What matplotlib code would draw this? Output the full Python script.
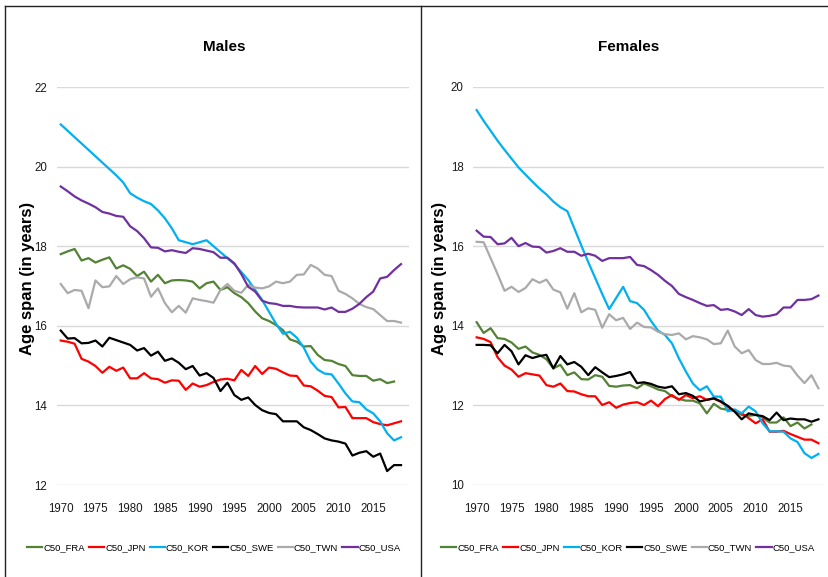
"""
plot.py
Cohort age span (C50) by sex for six countries, 1970-2019.
Run: python plot.py
"""
import numpy as np
import matplotlib
matplotlib.use('Agg')
import matplotlib.pyplot as plt
from matplotlib.lines import Line2D

nan = np.nan
YEARS = np.arange(1970, 2020)
XTICKS = list(range(1970, 2020, 5))

SERIES = ['C50_FRA', 'C50_JPN', 'C50_KOR', 'C50_SWE', 'C50_TWN', 'C50_USA']
COLORS = ['#548235', '#ff0000', '#00b0f0', '#000000', '#aaaaaa', '#7030a0']

male_fra = [17.80, 17.87, 17.93, 17.64, 17.70, 17.59, 17.66, 17.72, 17.44, 17.52,
            17.43, 17.25, 17.36, 17.11, 17.28, 17.07, 17.14, 17.15, 17.14, 17.11,
            16.94, 17.07, 17.11, 16.90, 16.97, 16.82, 16.72, 16.57, 16.36, 16.19,
            16.12, 16.02, 15.89, 15.66, 15.60, 15.48, 15.49, 15.27, 15.14, 15.12,
            15.04, 14.99, 14.76, 14.74, 14.74, 14.62, 14.66, 14.56, 14.60, nan]
male_jpn = [15.63, 15.60, 15.55, 15.17, 15.10, 14.99, 14.82, 14.97, 14.87, 14.95,
            14.68, 14.68, 14.81, 14.68, 14.66, 14.57, 14.63, 14.62, 14.39, 14.55,
            14.47, 14.51, 14.59, 14.65, 14.67, 14.63, 14.89, 14.74, 14.99, 14.79,
            14.95, 14.92, 14.83, 14.75, 14.74, 14.50, 14.48, 14.37, 14.24, 14.21,
            13.95, 13.96, 13.68, 13.68, 13.68, 13.58, 13.53, 13.50, 13.55, 13.60]
male_kor = [21.06, 20.90, 20.74, 20.58, 20.42, 20.26, 20.10, 19.94, 19.78, 19.60,
            19.33, 19.22, 19.13, 19.06, 18.90, 18.70, 18.45, 18.15, 18.10, 18.05,
            18.10, 18.15, 18.00, 17.85, 17.70, 17.55, 17.35, 17.15, 16.90, 16.65,
            16.35, 16.05, 15.80, 15.85, 15.70, 15.45, 15.10, 14.90, 14.80, 14.78,
            14.55, 14.30, 14.10, 14.08, 13.90, 13.80, 13.60, 13.30, 13.12, 13.20]
male_swe = [15.88, 15.68, 15.69, 15.56, 15.57, 15.63, 15.48, 15.70, 15.64, 15.58,
            15.52, 15.38, 15.44, 15.25, 15.35, 15.12, 15.18, 15.07, 14.91, 14.99,
            14.75, 14.81, 14.69, 14.36, 14.57, 14.26, 14.14, 14.20, 14.01, 13.88,
            13.81, 13.78, 13.60, 13.60, 13.60, 13.45, 13.38, 13.28, 13.17, 13.12,
            13.09, 13.04, 12.74, 12.81, 12.85, 12.71, 12.79, 12.35, 12.50, 12.50]
male_twn = [17.05, 16.82, 16.90, 16.88, 16.44, 17.14, 16.97, 16.99, 17.25, 17.05,
            17.17, 17.22, 17.19, 16.73, 16.94, 16.57, 16.34, 16.50, 16.33, 16.69,
            16.65, 16.62, 16.58, 16.90, 17.05, 16.88, 16.83, 17.03, 16.96, 16.94,
            16.99, 17.11, 17.07, 17.11, 17.28, 17.29, 17.53, 17.44, 17.28, 17.25,
            16.88, 16.80, 16.69, 16.55, 16.47, 16.42, 16.27, 16.12, 16.12, 16.08]
male_usa = [19.50, 19.38, 19.25, 19.15, 19.07, 18.98, 18.86, 18.82, 18.76, 18.74,
            18.50, 18.38, 18.20, 17.97, 17.96, 17.87, 17.90, 17.86, 17.83, 17.95,
            17.93, 17.89, 17.85, 17.71, 17.71, 17.57, 17.30, 16.98, 16.86, 16.63,
            16.57, 16.55, 16.50, 16.50, 16.47, 16.46, 16.46, 16.46, 16.41, 16.46,
            16.35, 16.35, 16.43, 16.55, 16.72, 16.86, 17.19, 17.23, 17.40, 17.55]

fem_fra = [14.09, 13.82, 13.94, 13.69, 13.67, 13.58, 13.42, 13.48, 13.33, 13.27,
           13.16, 12.93, 13.02, 12.76, 12.83, 12.66, 12.65, 12.76, 12.72, 12.49,
           12.47, 12.50, 12.51, 12.43, 12.55, 12.48, 12.40, 12.36, 12.23, 12.16,
           12.12, 12.12, 12.05, 11.80, 12.04, 11.92, 11.89, 11.87, 11.76, 11.74,
           11.76, 11.70, 11.57, 11.57, 11.70, 11.48, 11.57, 11.42, 11.52, nan]
fem_jpn = [13.71, 13.67, 13.59, 13.21, 13.00, 12.90, 12.72, 12.81, 12.78, 12.75,
           12.51, 12.47, 12.55, 12.36, 12.35, 12.28, 12.23, 12.23, 12.01, 12.08,
           11.94, 12.02, 12.06, 12.08, 12.01, 12.12, 11.98, 12.16, 12.26, 12.14,
           12.26, 12.18, 12.23, 12.14, 12.17, 12.09, 11.97, 11.85, 11.80, 11.68,
           11.55, 11.65, 11.34, 11.34, 11.36, 11.28, 11.21, 11.14, 11.14, 11.05]
fem_kor = [19.42, 19.15, 18.90, 18.65, 18.42, 18.20, 17.98, 17.80, 17.62, 17.45,
           17.30, 17.12, 16.98, 16.88, 16.45, 16.02, 15.60, 15.20, 14.80, 14.42,
           14.70, 14.98, 14.62, 14.57, 14.40, 14.12, 13.88, 13.77, 13.56, 13.18,
           12.85, 12.55, 12.38, 12.48, 12.22, 12.22, 11.85, 11.90, 11.80, 11.97,
           11.85, 11.55, 11.35, 11.35, 11.34, 11.17, 11.08, 10.80, 10.68, 10.78]
fem_swe = [13.52, 13.52, 13.51, 13.31, 13.52, 13.36, 13.03, 13.26, 13.19, 13.24,
           13.27, 12.93, 13.24, 13.03, 13.09, 12.97, 12.76, 12.96, 12.83, 12.71,
           12.74, 12.78, 12.84, 12.56, 12.58, 12.54, 12.47, 12.44, 12.48, 12.28,
           12.31, 12.24, 12.10, 12.14, 12.18, 12.10, 11.99, 11.84, 11.65, 11.80,
           11.76, 11.73, 11.63, 11.82, 11.63, 11.67, 11.65, 11.65, 11.59, 11.65]
fem_twn = [16.11, 16.10, 15.70, 15.30, 14.88, 14.98, 14.85, 14.95, 15.17, 15.08,
           15.16, 14.91, 14.84, 14.43, 14.82, 14.34, 14.44, 14.40, 13.95, 14.29,
           14.14, 14.20, 13.92, 14.08, 13.97, 13.96, 13.85, 13.79, 13.77, 13.81,
           13.66, 13.74, 13.71, 13.66, 13.54, 13.56, 13.88, 13.48, 13.31, 13.39,
           13.14, 13.04, 13.04, 13.07, 13.00, 12.98, 12.75, 12.56, 12.76, 12.43]
fem_usa = [16.39, 16.24, 16.23, 16.05, 16.07, 16.21, 16.00, 16.08, 15.99, 15.98,
           15.84, 15.88, 15.95, 15.86, 15.86, 15.76, 15.81, 15.76, 15.63, 15.70,
           15.70, 15.70, 15.73, 15.53, 15.50, 15.40, 15.28, 15.13, 15.00, 14.80,
           14.72, 14.65, 14.57, 14.50, 14.52, 14.40, 14.42, 14.36, 14.27, 14.42,
           14.27, 14.23, 14.25, 14.29, 14.46, 14.46, 14.65, 14.65, 14.67, 14.76]

MALES = [male_fra, male_jpn, male_kor, male_swe, male_twn, male_usa]
FEMALES = [fem_fra, fem_jpn, fem_kor, fem_swe, fem_twn, fem_usa]

FONT = ['Liberation Sans', 'DejaVu Sans']
plt.rcParams['font.family'] = FONT

W, H = 829, 577
fig = plt.figure(figsize=(W / 100, H / 100), dpi=100)


def px_box(x0, y0, x1, y1):
    # pixel box (top-left origin) -> figure fraction rect
    return [x0 / W, 1 - y1 / H, (x1 - x0) / W, (y1 - y0) / H]


def panel(rect, data, ylim, title, title_x, ylabel_x, legend_x, xlim):
    ax = fig.add_axes(rect)
    for vals, name, col in zip(data, SERIES, COLORS):
        ax.plot(YEARS, vals, color=col, lw=1.6, label=name, solid_joinstyle='round')
    ax.set_xlim(*xlim)
    ax.set_ylim(*ylim)
    ax.set_yticks(np.arange(ylim[0], ylim[1] + 1, 2))
    ax.set_xticks(XTICKS)
    ax.grid(axis='y', color='#d9d9d9', lw=1.0)
    ax.set_axisbelow(True)
    for s in ax.spines.values():
        s.set_visible(False)
    ax.tick_params(length=0, labelsize=8.3, colors='#1a1a1a')
    ax.tick_params(axis='x', pad=13)
    ax.tick_params(axis='y', pad=7)
    fig.text(title_x / W, 1 - 47 / H, title, ha='center', va='center',
             fontsize=11, fontweight='bold')
    fig.text(ylabel_x / W, 1 - 278 / H, 'Age span (in years)', rotation=90,
             ha='center', va='center', fontsize=12, fontweight='bold')
    handles = [Line2D([], [], color=c, lw=1.6) for c in COLORS]
    fig.legend(handles, SERIES, loc='center', bbox_to_anchor=(legend_x / W, 1 - 548 / H),
               ncol=6, frameon=False, handlelength=1.6, handletextpad=0.1,
               columnspacing=0.45, borderpad=0, prop={'size': 6.8})
    return ax


panel(px_box(56.7, 87, 409, 485), MALES, (12, 22), 'Males', 224, 28, 214,
      (1969.42, 2020.15))
panel(px_box(473.3, 87, 824, 485), FEMALES, (10, 20), 'Females', 629, 440, 628,
      (1969.52, 2019.8))

# frame lines around the two panels
for xs, ys in [([5.5, 5.5], [6, H]), ([5.5, W], [6, 6]), ([421, 421], [6, H])]:
    fig.add_artist(Line2D([x / W for x in xs], [1 - y / H for y in ys],
                          color='#222222', lw=1.0))

fig.savefig('out.png', dpi=100)
